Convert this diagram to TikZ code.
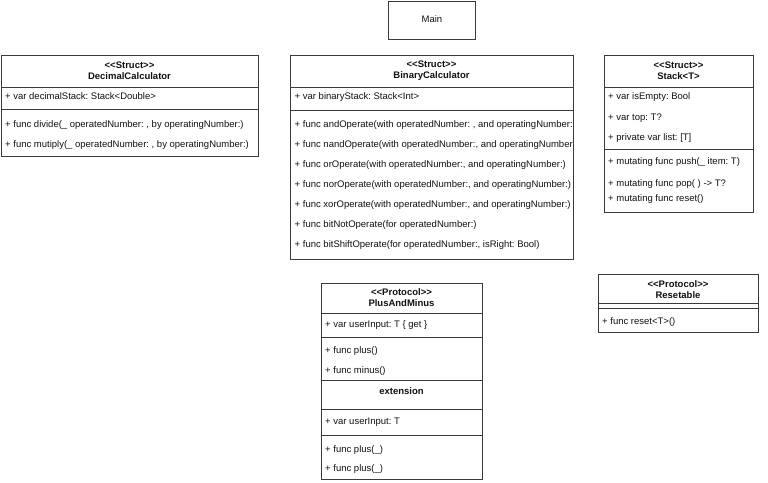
\documentclass[tikz,border=0pt]{standalone}
\usepackage{fontspec}
\setmainfont{Liberation Sans}
\definecolor{linec}{HTML}{3A3A3A}
\definecolor{txt}{HTML}{111111}
\frenchspacing
\begin{document}
\begin{tikzpicture}[x=1pt,y=-1pt,
  classbox/.style={draw=linec, line width=0.9pt, inner sep=0pt, anchor=north west},
  sepline/.style={draw=linec, line width=0.9pt},
  hdr/.style={font=\fontsize{9.5}{11}\selectfont\bfseries, align=center, inner sep=0pt, text=txt},
  row/.style={font=\fontsize{9.5}{11.5}\selectfont, anchor=west, inner sep=0pt, text=txt, text height=7pt, text depth=2pt},
]
\useasboundingbox[fill=white] (0,0) rectangle (768,482);

% Main
\node[classbox, minimum width=87pt, minimum height=38.5pt] (main) at (388,0.5) {};
\node[row, anchor=center] (maintxt) at (main.center) {Main};

% DecimalCalculator
\node[classbox, minimum width=257pt, minimum height=101pt] (dec) at (1,55) {};
\draw[sepline] (1,87) -- (258,87);
\draw[sepline] (1,109) -- (258,109);
\node[hdr] (dech) at (129.5,70.5) {<{}<Struct>{}>\\DecimalCalculator};
\node[row] (dec1) at (5,97) {+ var decimalStack: Stack<Double>};
\node[row] (dec2) at (5,124.5) {+ func divide(\_ operatedNumber: , by operatingNumber:)};
\node[row] (dec3) at (5,144.5) {+ func mutiply(\_ operatedNumber: , by operatingNumber:)};

% BinaryCalculator
\node[classbox, minimum width=283pt, minimum height=204pt] (bin) at (290,55) {};
\draw[sepline] (290,87) -- (573,87);
\draw[sepline] (290,110) -- (573,110);
\node[hdr] (binh) at (431.5,70.5) {<{}<Struct>{}>\\BinaryCalculator};
\begin{scope}
\clip (290,55) rectangle (572.5,259);
\node[row] (bin1) at (294.5,97) {+ var binaryStack: Stack<Int>};
\node[row] (bin2) at (294.5,124.5) {+ func andOperate(with operatedNumber: , and operatingNumber:};
\node[row] (bin3) at (294.5,144.5) {+ func nandOperate(with operatedNumber:, and operatingNumber};
\node[row] (bin4) at (294.5,164.5) {+ func orOperate(with operatedNumber:, and operatingNumber:)};
\node[row] (bin5) at (294.5,184.5) {+ func norOperate(with operatedNumber:, and operatingNumber:)};
\node[row] (bin6) at (294.5,204.5) {+ func xorOperate(with operatedNumber:, and operatingNumber:)};
\node[row] (bin7) at (294.5,224.5) {+ func bitNotOperate(for operatedNumber:)};
\node[row] (bin8) at (294.5,244.5) {+ func bitShiftOperate(for operatedNumber:, isRight: Bool)};
\end{scope}

% Stack<T>
\node[classbox, minimum width=149pt, minimum height=157pt] (stk) at (604,55) {};
\draw[sepline] (604,87) -- (753,87);
\draw[sepline] (604,149) -- (753,149);
\node[hdr] (stkh) at (678.5,70.5) {<{}<Struct>{}>\\Stack<T>};
\node[row] (stk1) at (608,97) {+ var isEmpty: Bool};
\node[row] (stk2) at (608,117.5) {+ var top: T?};
\node[row] (stk3) at (608,137.5) {+ private var list: [T]};
\node[row] (stk4) at (608,162) {+ mutating func push(\_ item: T)};
\node[row] (stk5) at (608,184) {+ mutating func pop( ) -> T?};
\node[row] (stk6) at (608,199) {+ mutating func reset()};

% PlusAndMinus
\node[classbox, minimum width=161pt, minimum height=196pt] (pam) at (321,283) {};
\draw[sepline] (321,313) -- (482,313);
\draw[sepline] (321,337) -- (482,337);
\draw[sepline] (321,380) -- (482,380);
\draw[sepline] (321,409) -- (482,409);
\draw[sepline] (321,435) -- (482,435);
\node[hdr] (pamh) at (401.5,298) {<{}<Protocol>{}>\\PlusAndMinus};
\node[row] (pam1) at (325,325) {+ var userInput: T \{ get \}};
\node[row] (pam2) at (325,351) {+ func plus()};
\node[row] (pam3) at (325,370.5) {+ func minus()};
\node[hdr] (pamx) at (401.5,391) {extension};
\node[row] (pam4) at (325,422) {+ var userInput: T};
\node[row] (pam5) at (325,449.5) {+ func plus(\_)};
\node[row] (pam6) at (325,469) {+ func plus(\_)};

% Resetable
\node[classbox, minimum width=160pt, minimum height=58pt] (rst) at (598,274) {};
\draw[sepline] (598,303) -- (758,303);
\draw[sepline] (598,308.5) -- (758,308.5);
\node[hdr] (rsth) at (678,290) {<{}<Protocol>{}>\\Resetable};
\node[row] (rst1) at (602,321.5) {+ func reset<T>()};
\end{tikzpicture}
\end{document}
